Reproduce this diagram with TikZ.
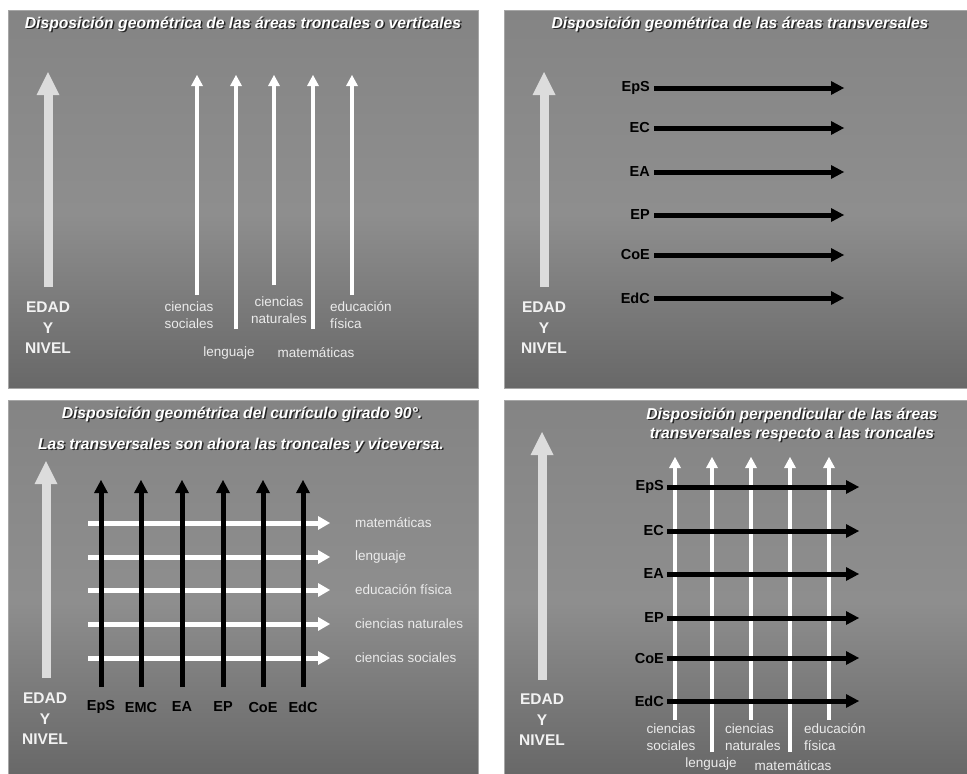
\documentclass[tikz,border=0pt]{standalone}
\usepackage{fontspec}
\setmainfont{Liberation Sans}
\usetikzlibrary{arrows.meta}
\definecolor{biggray}{HTML}{DCDCDC}
\definecolor{labgray}{HTML}{EBEBEB}
\definecolor{bga}{HTML}{484848}
\definecolor{bgb}{HTML}{686868}
\definecolor{bgc}{HTML}{8E8E8E}
\definecolor{bgd}{HTML}{8A8A8A}
\definecolor{bge}{HTML}{7A7A7A}
\pgfdeclareverticalshading{panelbg}{100bp}{color(0bp)=(bga); color(25bp)=(bgb); color(48bp)=(bgc); color(60bp)=(bgd); color(100bp)=(bge)}
\begin{document}
\begin{tikzpicture}[x=1pt,y=-1pt,
  panel/.style={shading=panelbg, draw=gray!70, line width=0.8pt},
  ttl/.style={font=\fontsize{15.7}{19}\selectfont\bfseries\itshape, text=white, inner sep=0pt, align=center},
  ttlsh/.style={ttl, text=black!85},
  bigarrow/.style={draw=biggray, line width=9pt, -{Triangle[width=23pt,length=23pt,line width=0pt]}},
  warrow/.style={draw=white, line width=4pt, -{Triangle[width=12pt,length=11pt,line width=0pt]}},
  wharrow/.style={draw=white, line width=5pt, -{Triangle[width=14pt,length=12pt,line width=0pt]}},
  barrow/.style={draw=black, line width=5pt, -{Triangle[width=14pt,length=13pt,line width=0pt]}},
  edad/.style={font=\fontsize{15.5}{20.5}\selectfont\bfseries, text=white!95!black, align=center, inner sep=0pt},
  lab/.style={font=\fontsize{13.5}{16.5}\selectfont, text=labgray, inner sep=0pt},
  blab/.style={font=\fontsize{14.5}{16}\selectfont\bfseries, text=black, inner sep=0pt},
]
\useasboundingbox (0,0) rectangle (967,774);
\fill[white] (0,0) rectangle (967,774);
% panels
\shade[panel] (8,10) rectangle (478,388);
\shade[panel] (504,10) rectangle (967,388);
\shade[panel] (8,400) rectangle (478,774);
\shade[panel] (504,400) rectangle (967,774);

%================ Panel 1
\node[ttlsh] (t1s) at (244.5,25.5) {Disposición geométrica de las áreas troncales o verticales};
\node[ttl] (t1) at (243,24) {Disposición geométrica de las áreas troncales o verticales};
\coordinate (b1b) at (48,287); \coordinate (b1t) at (48,72);
\draw[bigarrow] (b1b) -- (b1t);
\node[edad] (e1) at (48,328) {EDAD\\Y\\NIVEL};
\foreach \i/\x/\yb in {1/197/295,2/236/329,3/274/285,4/313/329,5/352/295}{
  \coordinate (p1b\i) at (\x,\yb); \coordinate (p1t\i) at (\x,75);
  \draw[warrow] (p1b\i) -- (p1t\i);
}
\node[lab, align=center] (l1cs) at (189,315) {ciencias\\sociales};
\node[lab, align=center] (l1cn) at (279,310) {ciencias\\naturales};
\node[lab, align=left, anchor=west] (l1ef) at (330,315) {educación\\física};
\node[lab] (l1le) at (229,353) {lenguaje};
\node[lab] (l1ma) at (316,353) {matemáticas};

%================ Panel 2
\node[ttlsh] (t2s) at (741.5,25.5) {Disposición geométrica de las áreas transversales};
\node[ttl] (t2) at (740,24) {Disposición geométrica de las áreas transversales};
\coordinate (b2b) at (544,287); \coordinate (b2t) at (544,72);
\draw[bigarrow] (b2b) -- (b2t);
\node[edad] (e2) at (544,328) {EDAD\\Y\\NIVEL};
\foreach \i/\y/\t in {1/88/EpS,2/128/EC,3/172/EA,4/215/EP,5/255/CoE,6/298/EdC}{
  \node[blab, anchor=east] (q2l\i) at (650,\y) {\t};
  \coordinate (q2e\i) at (844,\y);
  \draw[barrow] (q2l\i.east) ++(4,0) coordinate (q2s\i) -- (q2e\i);
}

%================ Panel 3
\node[ttlsh] (t3as) at (243.5,415.5) {Disposición geométrica del currículo girado 90°.};
\node[ttl] (t3a) at (242,414) {Disposición geométrica del currículo girado 90°.};
\node[ttlsh] (t3bs) at (242.5,446.5) {Las transversales son ahora las troncales y viceversa.};
\node[ttl] (t3b) at (241,445) {Las transversales son ahora las troncales y viceversa.};
\coordinate (b3b) at (46,678); \coordinate (b3t) at (46,461);
\draw[bigarrow] (b3b) -- (b3t);
\node[edad] (e3) at (45,719) {EDAD\\Y\\NIVEL};
\foreach \i/\y/\t in {1/523/matemáticas,2/557/lenguaje,3/590/educación física,4/624/ciencias naturales,5/658/ciencias sociales}{
  \coordinate (h3s\i) at (88,\y);
  \coordinate (h3e\i) at (330,\y);
  \draw[wharrow] (h3s\i) -- (h3e\i);
  \node[lab, anchor=west] (h3l\i) at (355,\y) {\t};
}
\foreach \i/\x/\t in {1/101/EpS,2/141/EMC,3/182/EA,4/223/EP,5/263/CoE,6/303/EdC}{
  \node[blab] (v3l\i) at (\x,707) {\t};
  \coordinate (v3b\i) at (\x,687); \coordinate (v3t\i) at (\x,480);
  \draw[barrow] (v3b\i) -- (v3t\i);
}

%================ Panel 4
\node[ttlsh] (t4as) at (793.5,416.5) {Disposición perpendicular de las áreas};
\node[ttl] (t4a) at (792,415) {Disposición perpendicular de las áreas};
\node[ttlsh] (t4bs) at (793.5,435.5) {transversales respecto a las troncales};
\node[ttl] (t4b) at (792,434) {transversales respecto a las troncales};
\coordinate (b4b) at (542,680); \coordinate (b4t) at (542,432);
\draw[bigarrow] (b4b) -- (b4t);
\node[edad] (e4) at (542,720) {EDAD\\Y\\NIVEL};
\foreach \i/\x/\yb in {1/675/720,2/712/752,3/751/720,4/790/752,5/829/720}{
  \coordinate (v4b\i) at (\x,\yb); \coordinate (v4t\i) at (\x,457);
  \draw[warrow] (v4b\i) -- (v4t\i);
}
\foreach \i/\y/\t in {1/487/EpS,2/531/EC,3/574/EA,4/618/EP,5/658/CoE,6/701/EdC}{
  \node[blab, anchor=east] (h4l\i) at (664,\y) {\t};
  \coordinate (h4s\i) at (667,\y); \coordinate (h4e\i) at (859,\y);
  \draw[barrow] (h4s\i) -- (h4e\i);
}
\node[lab, align=center] (l4cs) at (671,737) {ciencias\\sociales};
\node[lab] (l4le) at (711,764) {lenguaje};
\node[lab, align=left, anchor=west] (l4cn) at (725,737) {ciencias\\naturales};
\node[lab] (l4ma) at (793,766) {matemáticas};
\node[lab, align=left, anchor=west] (l4ef) at (804,737) {educación\\física};
\end{tikzpicture}
\end{document}
